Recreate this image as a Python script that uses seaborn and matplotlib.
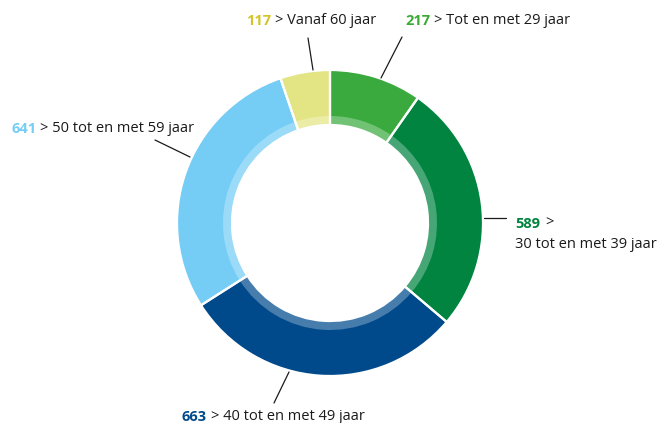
import numpy as np
import matplotlib
matplotlib.use("Agg")
import matplotlib.pyplot as plt
import seaborn as sns

# data (clockwise from the top)
groups = ["Tot en met 29 jaar", "30 tot en met 39 jaar", "40 tot en met 49 jaar",
          "50 tot en met 59 jaar", "Vanaf 60 jaar"]
counts = [217, 589, 663, 641, 117]
ring_colors = ["#3aaa3f", "#00843f", "#004a8c", "#75cdf5", "#e3e584"]
number_colors = ["#3aaa35", "#00843d", "#004a8c", "#75cdf5", "#d4c42a"]

W, H = 659, 423
sns.set_theme(style="white")
plt.rcParams["font.family"] = ["Open Sans", "DejaVu Sans"]

fig = plt.figure(figsize=(W / 100, H / 100), dpi=100)
ax = fig.add_axes([0, 0, 1, 1])

def px(x, y):
    # pixel position (top-left origin) -> data coords
    return (x, H - y)

center = px(330, 223)
r_out, r_in, band = 153, 98, 9

palette = sns.color_palette(ring_colors)
band_colors = [tuple(0.72 * np.array(c) + 0.28) for c in palette]
pie_kw = dict(center=center, startangle=90, counterclock=False, frame=True)

# ring, lighter inner band, then white separators on top
ax.pie(counts, colors=palette, radius=r_out,
       wedgeprops=dict(width=r_out - r_in, linewidth=0), **pie_kw)
ax.pie(counts, colors=band_colors, radius=r_in + band,
       wedgeprops=dict(width=band, linewidth=0), **pie_kw)
ax.pie(counts, colors=["none"] * len(counts), radius=r_out,
       wedgeprops=dict(width=r_out - r_in, edgecolor="white", linewidth=1.6), **pie_kw)

ax.set_xlim(0, W)
ax.set_ylim(0, H)
ax.set_aspect("equal")
ax.axis("off")

# label layout: text anchor, leader line start/end, two-line flag
layout = {
    "Tot en met 29 jaar": dict(text=(405, 25), line=((381, 78), (402, 37)), wrap=False),
    "30 tot en met 39 jaar": dict(text=(515, 228), line=((484, 218), (506, 218)), wrap=True),
    "40 tot en met 49 jaar": dict(text=(182, 421), line=((289, 372), (274, 403)), wrap=False),
    "50 tot en met 59 jaar": dict(text=(11, 133), line=((190, 157), (155, 140)), wrap=False),
    "Vanaf 60 jaar": dict(text=(246, 25), line=((313, 70), (308, 38)), wrap=False),
}

fs = 10.5
for name, n, col in zip(groups, counts, number_colors):
    lay = layout[name]
    (x0, y0), (x1, y1) = lay["line"]
    ax.plot([x0, x1], [H - y0, H - y1], color="#1a1a1a", lw=0.9)
    num = ax.text(*px(*lay["text"]), str(n), color=col, fontsize=fs,
                  fontweight="bold", ha="left", va="baseline")
    if lay["wrap"]:
        ax.annotate(">", xy=(1, 0), xycoords=num, xytext=(4, 0),
                    textcoords="offset points", fontsize=fs, va="bottom",
                    color="#1a1a1a")
        tx, ty = lay["text"]
        ax.text(*px(tx, ty + 20), name, fontsize=fs, color="#1a1a1a",
                ha="left", va="baseline")
    else:
        ax.annotate("> " + name, xy=(1, 0), xycoords=num, xytext=(3, 0),
                    textcoords="offset points", fontsize=fs, va="bottom",
                    color="#1a1a1a")

fig.savefig("out.png", dpi=100)
